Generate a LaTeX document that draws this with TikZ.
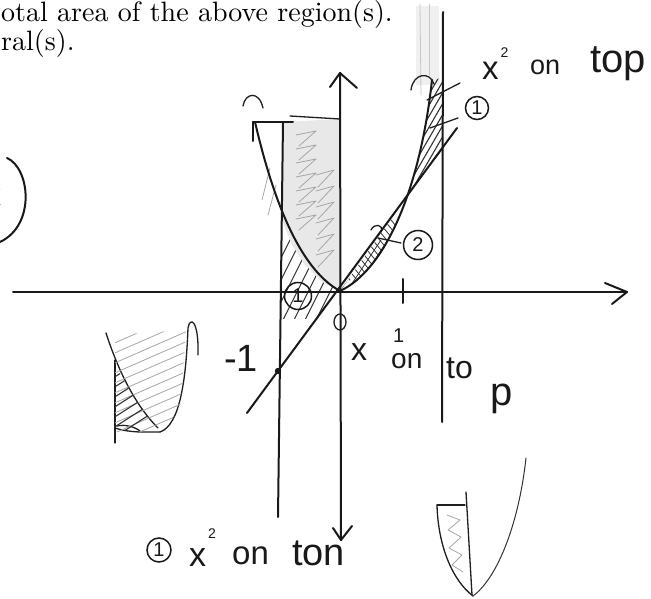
\documentclass[tikz,border=0pt]{standalone}
\usepackage{fontspec}
\newfontfamily\hand{Liberation Sans}
\newfontfamily\lmten{lmroman10-regular.otf}
\begin{document}
\begin{tikzpicture}[x=1pt,y=-1pt,
  ink/.style={line width=2pt, line cap=round, line join=round, black!90},
  thinink/.style={line width=1.3pt, line cap=round, line join=round, black!88},
  hatch/.style={line width=1.1pt, line cap=round, black!80},
  pencil/.style={line width=0.8pt, line cap=round, line join=round, black!35},
  lbl/.style={font=\hand, inner sep=0pt, anchor=base west, black!90},
  circnum/.style={draw, circle, line width=1.5pt, inner sep=0pt, black!90, font=\hand\fontsize{20}{20}\selectfont},
  printed/.style={font=\lmten\fontsize{28}{32}\selectfont, inner sep=0pt, anchor=base west}]
\useasboundingbox (0,0) rectangle (651,599);

% printed text
\node[printed] (t1) at (1,22) {otal area of the above region(s).};
\node[printed] (t2) at (1,51) {ral(s).};
\node[lbl, font=\hand\fontsize{30}{30}\selectfont] (cutx) at (-14,205) {x};
\draw[ink] (7,158) .. controls (30,168) and (36,225) .. (0,242);

% light shaded region
\fill[black!9] (283,122) -- (340,119) -- (340,291) -- (322,282) -- (305,265) -- (292,245) -- (283,223) -- cycle;
\foreach \k in {0,...,6}
  \draw[pencil] (296,{135+14*\k}) -- (316,{131+14*\k}) -- (299,{146+14*\k});
\foreach \k in {0,...,5}
  \draw[pencil] (316,{175+16*\k}) -- (334,{170+16*\k}) -- (318,{187+16*\k});
\draw[pencil] (262,200) -- (270,168);
\draw[pencil] (268,215) -- (276,185);
\fill[black!6] (416,6) rectangle (439,85);
\draw[pencil, black!22] (420,4) -- (421,95);
\draw[pencil, black!22] (429,4) -- (429,75);

% dark hatch region 1 (left)
\begin{scope}
  \clip (270,215) rectangle (345,318);
  \clip (283,223) -- (292,245) -- (305,265) -- (322,282) -- (340,291) -- (278,371) -- cycle;
  \foreach \s in {0,11,...,132}
    \draw[hatch] ({240+\s},340) -- ++(50,-100);
\end{scope}

% dark hatch region (right)
\begin{scope}
  \clip (407,197) -- (415,172) -- (422,145) -- (428,112) -- (432,80) -- (442,78) -- (442,150) -- cycle;
  \foreach \s in {0,11,...,165}
    \draw[hatch] (395,{230-\s}) -- ++(55,-95);
\end{scope}

% region 2 cross hatch
\begin{scope}
  \clip (340,291) -- (407,197) -- (398,219) -- (383,248) -- (366,272) -- (353,283) -- cycle;
  \foreach \s in {0,7,...,120}
    \draw[hatch, line width=0.8pt] ({320+\s},300) -- ++(40,-60);
  \foreach \s in {0,7,...,140}
    \draw[hatch, line width=0.8pt] ({300+\s},220) -- ++(50,60);
\end{scope}
\draw[thinink] (371,230) .. controls (374,223) and (384,224) .. (381,232);

% axes
\coordinate (xl) at (13,292);
\coordinate (xr) at (627,292);
\draw[ink] (xl) -- (xr);
\draw[ink] (605,283) -- (xr) -- (612,304);
\coordinate (yt) at (340,73);
\coordinate (yb) at (341,540);
\draw[ink] (yt) -- (yb);
\draw[ink] (330,87) -- (yt) -- (357,88);
\draw[ink] (333,528) -- (yb) -- (352,526);

% vertical lines x=-1 and right bound
\coordinate (lt) at (283,122);
\coordinate (lb) at (278,517);
\draw[ink] (lt) -- (lb);
\coordinate (rt) at (443,12);
\coordinate (rb) at (442,422);
\draw[ink] (rt) -- (rb);
\draw[ink] (403,279) -- (403,303);

% parabola
\coordinate (ptl) at (255,122);
\coordinate (o) at (340,291);
\coordinate (ptr) at (432,80);
\draw[ink] (ptl) .. controls (272,195) and (298,268) .. (o) .. controls (385,270) and (420,190) .. (ptr);
\draw[thinink] (243,106) .. controls (245,93) and (259,90) .. (263,108);
\draw[ink] (253,122) -- (253,141);
\draw[ink] (253,122) -- (293,122);
\draw[thinink] (290,116) -- (340,119);
\draw[thinink] (411,90) .. controls (413,73) and (430,71) .. (434,84);

% line y = x
\coordinate (la) at (247,413);
\coordinate (lz) at (457,128);
\draw[ink] (la) -- (lz);
\fill[black!90] (278,371) circle (3.2);

% pointers
\draw[thinink] (427,100) -- (460,83);
\draw[thinink] (430,128) -- (458,118);
\draw[thinink] (378,238) -- (401,243);

% circled numbers
\node[circnum, minimum size=23pt] (c1r) at (477,108) {1};
\node[circnum, minimum size=29pt] (c2) at (418,245) {2};
\node[circnum, minimum size=27pt] (c1l) at (298,296) {1};
\node[circnum, minimum size=24pt] (c1b) at (159,550) {1};
\draw[thinink] (340,322) ellipse (6 and 8);

% labels
\node[lbl, font=\hand\fontsize{32}{32}\selectfont] (lx) at (351,360) {x};
\node[lbl, font=\hand\fontsize{20}{20}\selectfont] (l1) at (393,342) {1};
\node[lbl, font=\hand\fontsize{28}{28}\selectfont] (lon) at (391,368) {on};
\node[lbl, font=\hand\fontsize{32}{32}\selectfont] (lto) at (446,378) {to};
\node[lbl, font=\hand\fontsize{40}{40}\selectfont] (lp) at (490,405) {p};
\node[lbl, font=\hand\fontsize{38}{38}\selectfont] (lm1) at (224,371) {-1};

\node[lbl, font=\hand\fontsize{33}{33}\selectfont] (tx) at (482,80) {x\kern2pt\raisebox{22pt}{\fontsize{14}{14}\selectfont 2}};
\node[lbl, font=\hand\fontsize{27}{27}\selectfont] (ton) at (530,75) {on};
\node[lbl, font=\hand\fontsize{40}{40}\selectfont] (ttop) at (590,73) {top};

\node[lbl, font=\hand\fontsize{34}{34}\selectfont] (bx) at (189,566) {x\kern2pt\raisebox{28pt}{\fontsize{14}{14}\selectfont 2}};
\node[lbl, font=\hand\fontsize{33}{33}\selectfont] (bon) at (232,564) {on};
\node[lbl, font=\hand\fontsize{38}{38}\selectfont] (bton) at (292,565) {ton};

% lower-left sketch
\draw[thinink] (106,333) .. controls (118,370) and (135,405) .. (158,428);
\draw[thinink] (115,360) -- (115,443);
\draw[thinink] (115,428) .. controls (130,433) and (145,432) .. (160,432);
\draw[thinink] (117,426) .. controls (125,424) and (135,427) .. (140,431);
\draw[thinink] (160,432) .. controls (180,425) and (186,380) .. (188,328) .. controls (190,316) and (199,320) .. (198,355);
\begin{scope}
  \clip (115,335) -- (186,330) -- (180,410) -- (160,432) -- (115,432) -- cycle;
  \foreach \s in {0,10,...,110}
    \draw[pencil] (110,{445-\s}) -- ++(80,-35);
\end{scope}
\begin{scope}
  \clip (115,365) -- (130,390) -- (150,420) -- (158,430) -- (115,430) -- cycle;
  \foreach \s in {0,10,...,60}
    \draw[hatch] (110,{440-\s}) -- ++(50,-32);
\end{scope}

% lower-right sketch
\draw[thinink] (437,505) .. controls (438,545) and (452,580) .. (473,596);
\draw[thinink] (437,505) -- (465,505);
\draw[thinink] (466,492) -- (472,595);
\draw[line width=1pt, black!80, line cap=round] (473,596) .. controls (495,580) and (518,530) .. (526,458);
\draw[pencil] (447,515) -- (460,520) -- (448,530) -- (461,537) -- (449,548) -- (462,555) -- (452,565) -- (463,572);
\end{tikzpicture}
\end{document}
